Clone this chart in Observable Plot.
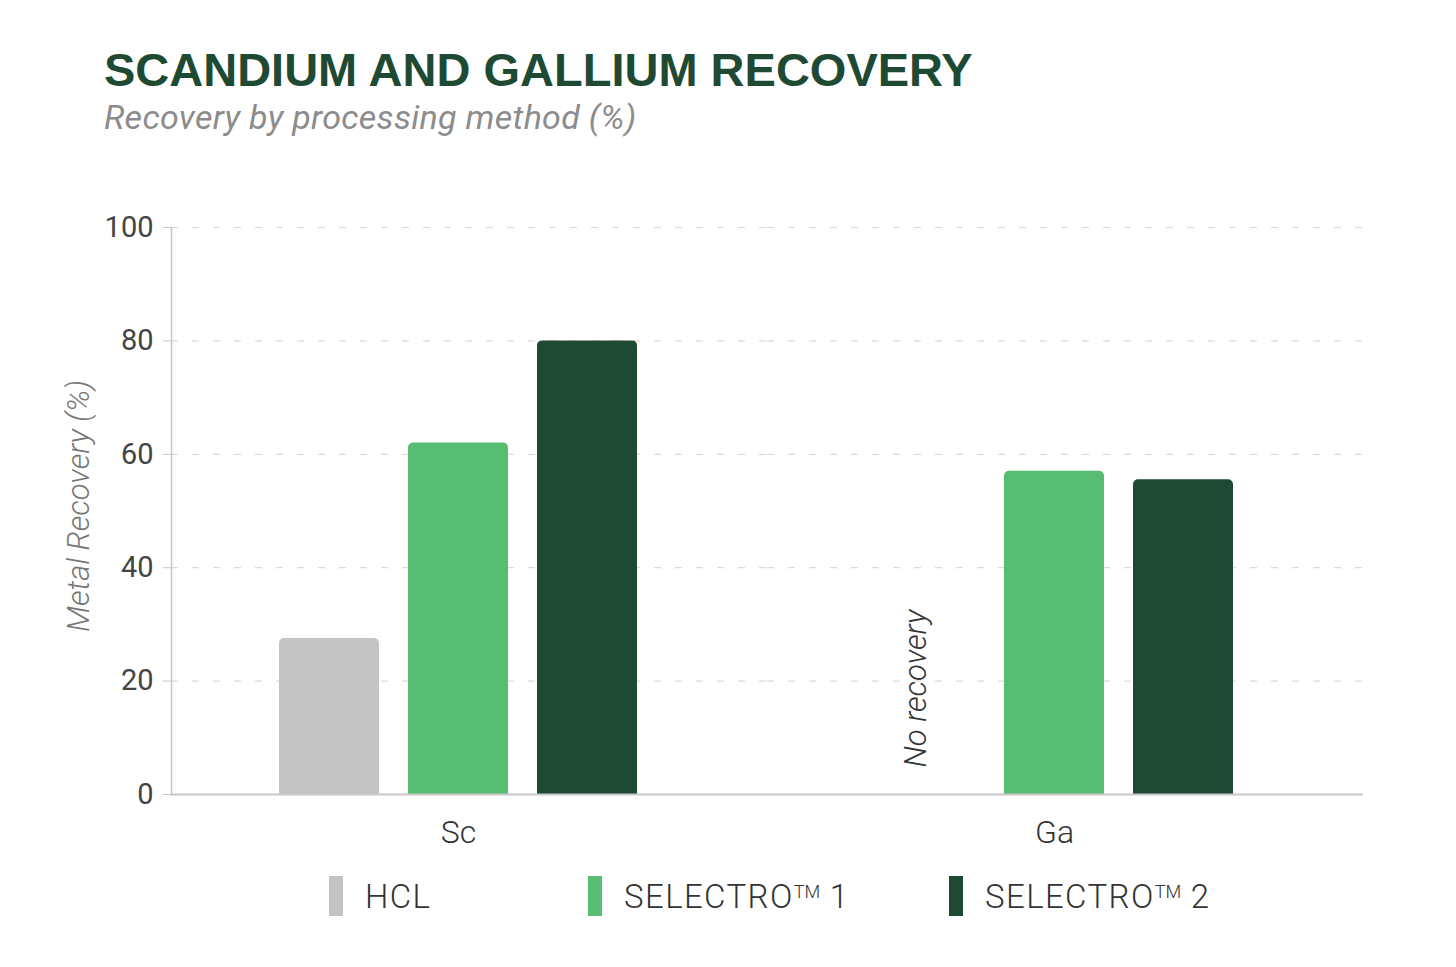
<!DOCTYPE html>
<html>
<head>
<meta charset="utf-8">
<script src="https://cdn.jsdelivr.net/npm/d3@7"></script>
<script src="https://cdn.jsdelivr.net/npm/@observablehq/plot@0.6"></script>
<style>
  html, body { margin: 0; padding: 0; background: #fff; }
  body { width: 1456px; height: 967px; position: relative; overflow: hidden; font-family: Roboto, "Liberation Sans", sans-serif; }
  #title { position: absolute; left: 104px; top: 40px; font-family: "Liberation Sans", Arial, sans-serif; font-weight: 700; font-size: 47px; color: #1e4a33; white-space: nowrap; line-height: 60px; }
  #subtitle { position: absolute; left: 104px; top: 95px; font-family: Roboto, sans-serif; font-style: italic; font-size: 34px; letter-spacing: 0.3px; color: #8c8c8c; white-space: nowrap; line-height: 44px; }
  #chart { position: absolute; left: 0; top: 160px; }
  #legend { position: absolute; left: 0; top: 876px; width: 1456px; height: 40px; }
  .item { position: absolute; top: 0; height: 40px; display: flex; align-items: center; }
  .sw { width: 14px; height: 40px; margin-right: 22px; }
  .lab { font-family: Roboto, sans-serif; font-weight: 300; font-size: 33px; letter-spacing: 1.4px; color: #333; white-space: nowrap; }
  .lab sup { font-size: 0.55em; letter-spacing: 0; vertical-align: 0; position: relative; top: -0.55em; }
</style>
</head>
<body>
<div id="title"></div>
<div id="subtitle"></div>
<div id="chart"></div>
<div id="legend"></div>
<script>
// ---- data ----
const groups = ["Sc", "Ga"];
const methods = ["HCL", "SELECTRO\u2122 1", "SELECTRO\u2122 2"];
const scValues = [27.5, 62, 80];
const gaValues = [null, 57, 55.5];
const yTicks = [0, 20, 40, 60, 80, 100];
const colors = ["#c4c4c4", "#56bd73", "#1e4a33"];
const noteText = "No recovery";
const titleText = "SCANDIUM AND GALLIUM RECOVERY";
const subtitleText = "Recovery by processing method (%)";
const yLabel = "Metal Recovery (%)";

document.getElementById("title").textContent = titleText;
document.getElementById("subtitle").textContent = subtitleText;

const rows = [];
groups.forEach((g, gi) => {
  const vals = gi === 0 ? scValues : gaValues;
  methods.forEach((m, mi) => rows.push({group: g, method: m, value: vals[mi]}));
});
const bars = rows.filter(d => d.value != null);
const notes = rows.filter(d => d.value == null).map(d => ({...d, label: noteText}));
const groupLabels = groups.map(g => ({group: g, method: methods[1]}));
const fillOf = d => colors[methods.indexOf(d.method)];

const chart = Plot.plot({
  width: 1456,
  height: 694,
  marginLeft: 170,
  marginRight: 93,
  marginTop: 67,
  marginBottom: 60,
  style: {fontFamily: "Roboto, sans-serif", background: "#fff"},
  fx: {domain: groups, padding: 0, axis: null, label: null},
  x: {domain: methods, paddingInner: 29 / 130, paddingOuter: 0, insetLeft: 107.25, insetRight: 128.25, axis: null},
  y: {domain: [0, 100], axis: null},
  marks: [
    Plot.ruleY(yTicks.filter(t => t > 0), {stroke: "#dcdcdc", strokeWidth: 1.2, strokeDasharray: "7,14"}),
    // rounded-top bars: rounded rect plus a square lower half covering the bottom corners
    Plot.barY(bars, {fx: "group", x: "method", y: "value", fill: fillOf, rx: 5}),
    Plot.barY(bars, {fx: "group", x: "method", y1: 0, y2: d => d.value / 2, fill: fillOf}),
    Plot.text(notes, {
      fx: "group", x: "method", y: 0, text: "label",
      rotate: -90, textAnchor: "start", lineAnchor: "middle",
      dy: -27, dx: -9, fontSize: 31, fontStyle: "italic", fontWeight: 300, fill: "#333"
    }),
    Plot.ruleY([0], {stroke: "#c8c8c8", strokeWidth: 2}),
    Plot.frame({anchor: "left", facetAnchor: "left", stroke: "#c8c4c0", strokeWidth: 1.5}),
    Plot.axisY(yTicks, {anchor: "left", facetAnchor: "left", tickSize: 8, tickPadding: 10, stroke: "#c8c4c0", fill: "#444", fontSize: 29, label: null}),
    Plot.text(groupLabels, {fx: "group", x: "method", y: 0, text: "group", dy: 38, fontSize: 32, fontWeight: 300, fill: "#333", lineAnchor: "middle"}),
    Plot.text([yLabel], {facet: "super", frameAnchor: "left", rotate: -90, dx: -92, dy: -5, fontSize: 31, fontStyle: "italic", fontWeight: 300, fill: "#777", textAnchor: "middle", lineAnchor: "middle"})
  ]
});
document.getElementById("chart").appendChild(chart);

// ---- legend ----
const legendLeft = [329, 588, 949];
const legend = document.getElementById("legend");
methods.forEach((m, i) => {
  const item = document.createElement("div");
  item.className = "item";
  item.style.left = legendLeft[i] + "px";
  const sw = document.createElement("div");
  sw.className = "sw";
  sw.style.background = colors[i];
  const lab = document.createElement("div");
  lab.className = "lab";
  const parts = m.split("\u2122");
  if (parts.length > 1) {
    lab.append(parts[0]);
    const sup = document.createElement("sup");
    sup.textContent = "TM";
    lab.append(sup);
    lab.append(parts[1]);
  } else lab.textContent = m;
  item.append(sw, lab);
  legend.append(item);
});
</script>
</body>
</html>
